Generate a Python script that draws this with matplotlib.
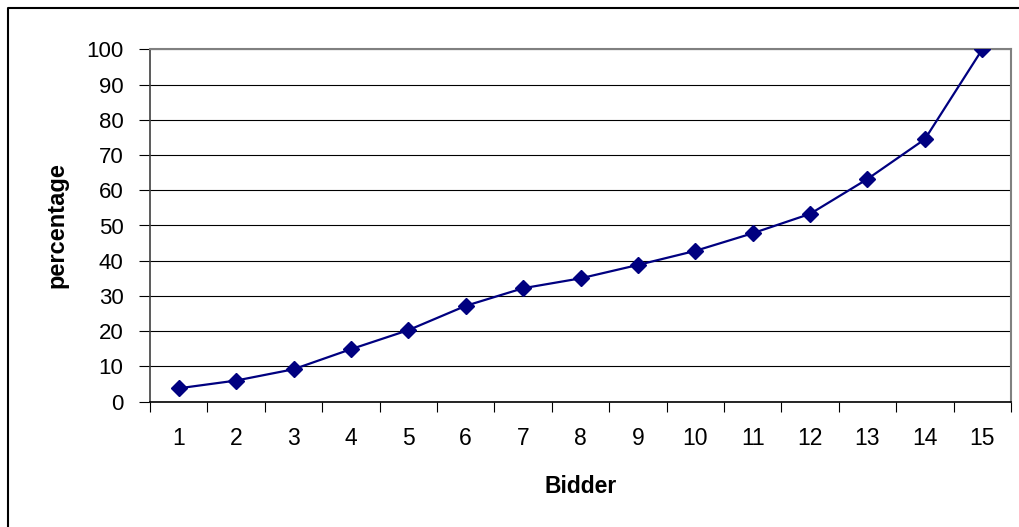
import matplotlib
matplotlib.use("Agg")
import matplotlib.pyplot as plt
from matplotlib.lines import Line2D
from matplotlib import font_manager

# Share of bids per bidder (cumulative percentage)
bidders = list(range(1, 16))
percentage = [3.8, 6.0, 9.2, 14.9, 20.3, 27.2, 32.2, 35.0, 38.8, 42.8,
              47.8, 53.3, 63.2, 74.5, 100.0]
y_ticks = list(range(0, 101, 10))

available = {f.name for f in font_manager.fontManager.ttflist}
narrow = "Liberation Sans Narrow" if "Liberation Sans Narrow" in available else "Liberation Sans"

W, H = 1019, 527
fig = plt.figure(figsize=(W / 100, H / 100), dpi=100)
fig.patch.set_facecolor("white")

ax = fig.add_axes([150 / W, 1 - 401.7 / H, (1011 - 150) / W, (401.7 - 49.3) / H])

ax.plot(bidders, percentage, color="#000080", linewidth=1.6,
        marker="D", markersize=8, markerfacecolor="#000080",
        markeredgecolor="#000080", zorder=3)

ax.set_xlim(0.5, 15.5)
ax.set_ylim(0, 100)

# horizontal gridlines
ax.set_yticks(y_ticks)
ax.yaxis.grid(True, color="black", linewidth=0.8)
ax.set_axisbelow(True)

# category ticks sit between bidders, labels centred on bidders
ax.set_xticks([b + 0.5 for b in [0] + bidders])
ax.set_xticks(bidders, minor=True)
ax.set_xticklabels([])
ax.set_xticklabels([str(b) for b in bidders], minor=True,
                   fontfamily=narrow, fontsize=16.5)
ax.tick_params(axis="x", which="major", direction="out", length=7,
               width=0.8, color="black")
ax.tick_params(axis="x", which="minor", length=0, pad=18.5)
ax.tick_params(axis="y", direction="out", length=8, width=0.8,
               color="black", pad=11)
for lbl in ax.get_yticklabels():
    lbl.set_fontfamily("Liberation Sans")
    lbl.set_fontsize(16)

for side in ("top", "right"):
    ax.spines[side].set_color("#808080")
    ax.spines[side].set_linewidth(1.5)
ax.spines["left"].set_color("#404040")
ax.spines["left"].set_linewidth(1.2)
ax.spines["bottom"].set_color("black")
ax.spines["bottom"].set_linewidth(1.2)

ax.set_xlabel("Bidder", fontfamily=narrow, fontweight="bold",
              fontsize=16.5, labelpad=18)
ax.set_ylabel("percentage", fontfamily="Liberation Sans",
              fontweight="bold", fontsize=17, labelpad=13)

# frame lines along the top and left of the figure
fig.add_artist(Line2D([7.5 / W, 7.5 / W, 1.0], [0.0, 1 - 8 / H, 1 - 8 / H],
                      transform=fig.transFigure, color="black", linewidth=1.5))

fig.savefig("out.png", dpi=100)
